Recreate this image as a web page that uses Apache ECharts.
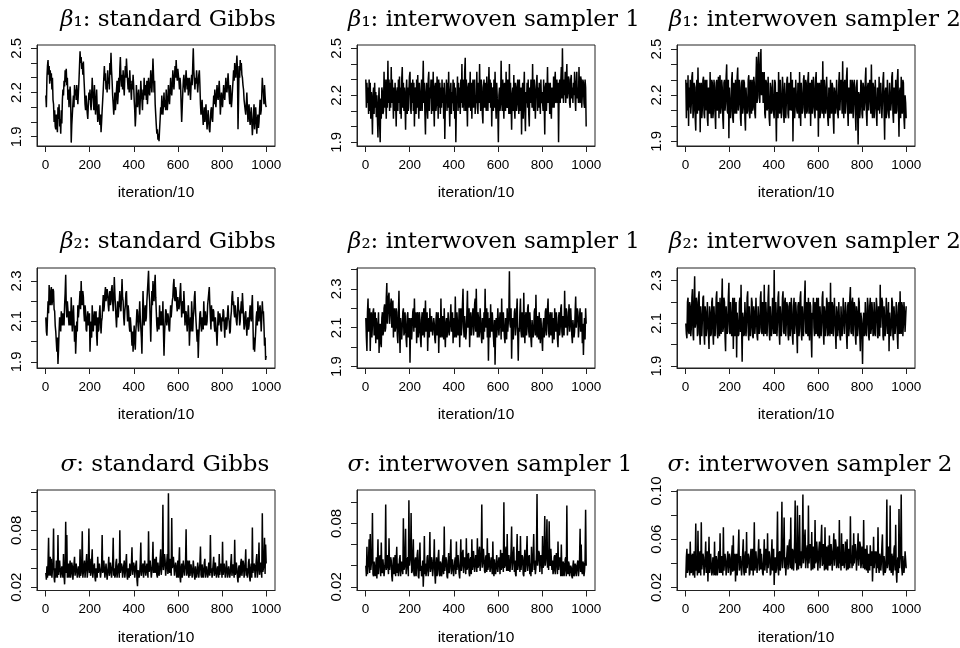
<!DOCTYPE html>
<html><head><meta charset="utf-8">
<script src="https://cdn.jsdelivr.net/npm/echarts@6/dist/echarts.min.js"></script>
<style>html,body{margin:0;padding:0;background:#fff}#c{width:960px;height:648px}</style>
</head><body><div id="c"></div>
<script>
// ---- data (thinned draws, 400 per chain) ----
const b1Gibbs = [
2.18,2.10,2.30,2.38,2.42,2.32,2.38,2.26,2.35,2.28,2.33,2.22,2.30,2.15,2.12,2.00,2.08,1.97,1.95,2.05,
1.98,1.93,2.10,2.02,2.12,1.97,2.02,1.92,2.08,1.99,2.15,2.22,2.18,2.28,2.24,2.35,2.27,2.36,2.25,2.30,
2.15,2.22,2.10,2.18,2.24,2.15,1.86,1.98,2.05,2.12,2.18,2.10,2.25,2.18,2.22,2.15,2.25,2.18,2.12,2.20,
2.28,2.38,2.48,2.40,2.44,2.36,2.40,2.32,2.41,2.30,2.22,2.12,2.08,2.18,2.12,2.06,2.02,2.12,2.20,2.15,
2.22,2.12,2.08,2.18,2.30,2.20,2.15,2.08,2.25,2.15,2.05,2.12,2.22,2.10,2.00,2.08,2.12,2.02,1.98,2.05,
1.93,2.00,2.08,2.15,2.22,2.30,2.38,2.28,2.33,2.22,2.28,2.20,2.35,2.26,2.30,2.22,2.40,2.32,2.47,2.35,
2.28,2.18,2.12,2.05,2.12,2.20,2.08,2.15,2.22,2.28,2.12,2.18,2.30,2.20,2.36,2.44,2.30,2.24,2.32,2.22,
2.35,2.25,2.18,2.30,2.38,2.30,2.43,2.35,2.28,2.22,2.30,2.20,2.35,2.26,2.22,2.15,2.28,2.22,2.32,2.25,
2.15,2.08,1.97,2.05,2.25,2.15,2.10,2.18,2.22,2.12,2.05,2.15,2.28,2.20,2.15,2.08,2.22,2.15,2.30,2.22,
2.18,2.25,2.15,2.28,2.12,2.20,2.30,2.22,2.18,2.25,2.35,2.28,2.20,2.30,2.43,2.32,2.20,2.28,2.12,2.05,
1.98,1.92,1.95,1.88,1.92,1.87,1.95,2.02,2.10,2.05,2.18,2.10,2.05,2.12,2.20,2.10,2.15,2.08,2.22,2.12,
2.08,2.15,2.25,2.18,2.12,2.20,2.30,2.22,2.18,2.25,2.35,2.28,2.22,2.30,2.38,2.30,2.42,2.33,2.28,2.36,
2.35,2.28,2.22,2.30,2.25,2.12,2.00,2.10,2.20,2.28,2.32,2.25,2.20,2.28,2.35,2.27,2.22,2.30,2.18,2.25,
2.30,2.22,2.15,2.25,2.32,2.25,2.38,2.50,2.35,2.28,2.22,2.30,2.26,2.35,2.28,2.20,2.26,2.32,2.35,2.25,
2.12,2.05,2.10,2.15,2.05,1.98,2.05,2.10,2.00,2.06,2.12,2.02,1.95,2.02,2.08,2.00,1.95,1.93,2.02,2.08,
2.10,2.02,2.00,2.10,2.18,2.12,2.22,2.15,2.10,2.18,2.25,2.18,2.15,2.22,2.28,2.18,2.05,2.12,2.20,2.15,
2.10,2.18,2.25,2.18,2.15,2.22,2.30,2.22,2.20,2.26,2.33,2.25,2.18,2.12,2.25,2.18,2.10,2.15,2.22,2.28,
2.35,2.28,2.40,2.32,2.30,2.38,2.45,2.35,1.95,2.15,2.38,2.30,2.42,2.35,2.40,2.32,2.30,2.25,2.22,2.15,
2.15,2.08,2.05,2.12,2.20,2.10,2.00,2.08,2.12,2.02,1.98,2.05,2.10,2.00,1.91,1.98,2.05,2.12,1.95,2.02,
2.10,2.02,1.92,2.00,2.05,1.96,2.00,2.08,2.15,2.05,2.08,2.18,2.30,2.22,2.20,2.12,2.25,2.18,2.12,2.10];
const b1Int1 = [
2.30,2.12,2.28,2.15,2.25,2.08,2.30,2.10,2.28,2.05,2.22,2.12,1.95,2.20,2.25,2.08,2.28,2.12,2.22,2.06,
2.20,2.05,1.93,2.15,2.25,2.02,1.90,2.18,2.05,2.25,2.22,2.08,2.10,2.35,2.12,2.30,2.18,2.05,2.30,2.12,
2.42,2.15,2.30,2.10,2.28,2.12,2.38,2.15,2.30,2.20,2.05,2.25,2.10,2.28,2.15,2.00,2.22,2.25,2.10,2.30,
2.15,2.32,2.08,2.25,2.05,2.30,2.38,2.12,2.28,2.10,2.25,2.15,1.98,2.22,2.30,2.08,2.25,2.10,2.22,2.32,
2.35,2.12,2.08,2.28,2.15,2.30,2.10,2.28,2.00,2.22,2.25,2.08,2.30,2.12,2.33,2.15,2.05,2.28,2.18,2.10,
2.20,2.30,2.10,2.25,2.42,2.15,2.28,2.08,1.95,2.22,2.28,2.12,2.05,2.30,2.35,2.10,2.25,2.18,2.30,2.08,
2.30,2.10,2.35,2.15,2.00,2.25,2.28,2.10,2.15,2.32,2.22,2.05,2.30,2.12,2.28,2.08,2.25,2.12,2.30,2.15,
2.25,2.05,2.28,1.92,2.15,2.20,2.30,2.10,2.28,2.12,2.35,2.15,2.00,2.22,2.28,2.08,2.22,2.15,2.30,2.10,
2.28,2.05,2.25,1.90,2.15,2.20,2.32,2.10,2.28,2.12,2.25,2.08,2.30,2.15,2.40,2.12,2.30,2.22,2.10,2.35,
2.44,2.10,2.30,2.15,2.00,2.25,2.28,2.12,2.20,2.35,2.10,2.28,2.05,2.22,2.30,2.12,2.25,2.30,2.08,2.20,
2.15,2.35,2.12,2.08,2.28,2.15,2.40,2.18,2.10,2.30,2.25,2.08,2.02,2.25,2.30,2.12,2.28,2.18,2.10,2.32,
2.32,2.10,2.25,2.38,2.15,2.30,2.12,2.28,2.00,2.22,2.25,2.10,2.30,2.12,2.35,2.15,2.05,2.28,2.18,2.10,
1.90,2.20,2.25,2.10,2.15,2.42,2.20,2.10,2.30,2.15,2.05,2.28,2.22,2.10,2.35,2.15,2.12,2.30,2.20,2.08,
2.40,2.08,2.28,2.15,1.98,2.20,2.25,2.10,2.33,2.12,2.05,2.28,2.25,2.10,2.15,2.30,2.22,2.08,2.30,2.12,
2.10,2.25,1.95,2.20,2.28,2.05,2.22,2.35,2.10,1.97,2.22,2.15,2.28,2.12,2.30,2.08,2.00,2.25,2.15,2.30,
2.25,2.12,2.40,2.15,2.10,2.30,2.22,2.05,2.20,2.28,2.33,2.10,2.25,2.12,2.28,2.18,2.08,2.30,2.15,2.22,
2.22,2.10,2.30,2.15,1.95,2.25,2.28,2.10,2.20,2.38,2.15,2.28,2.22,2.08,2.28,2.12,2.05,2.25,2.20,2.12,
2.32,2.12,2.28,2.35,2.15,2.20,2.30,2.15,2.28,1.90,2.22,2.30,2.15,2.28,2.38,2.18,2.50,2.25,2.15,2.30,
2.20,2.35,2.15,2.28,2.40,2.18,2.22,2.32,2.30,2.15,2.12,2.30,2.33,2.18,2.25,2.15,2.28,2.20,2.35,2.18,
2.10,2.28,2.35,2.18,2.25,2.15,2.38,2.20,2.15,2.32,2.30,2.12,2.20,2.30,2.28,2.15,2.12,2.30,2.25,2.00];
const b1Int2 = [
2.30,2.05,2.28,2.10,2.33,2.00,2.25,2.12,2.30,2.08,2.15,2.32,2.35,2.05,2.10,2.28,2.25,2.05,1.97,2.25,
2.30,2.08,2.38,2.15,2.10,2.28,1.96,2.22,2.28,2.05,2.12,2.30,2.32,2.08,2.05,2.30,2.22,2.10,2.30,2.05,
2.00,2.25,2.20,2.08,2.35,2.12,2.05,2.30,2.28,2.05,2.10,2.30,2.25,2.08,1.98,2.28,2.30,2.10,2.15,2.32,
2.05,2.30,2.33,2.08,2.12,2.30,2.25,2.05,1.98,2.28,2.30,2.10,2.15,2.32,2.40,2.10,2.08,2.30,1.92,2.25,
2.25,2.05,2.10,2.30,2.35,2.05,2.02,2.28,2.22,2.08,2.30,2.10,2.08,2.32,2.38,2.10,2.15,2.30,2.25,2.05,
2.00,2.28,2.30,2.08,2.12,2.30,2.28,2.05,1.97,2.25,2.25,2.08,2.10,2.30,2.33,2.08,2.05,2.30,2.22,2.08,
2.30,2.10,2.12,2.32,2.28,2.08,2.05,2.30,2.45,2.15,2.20,2.42,2.48,2.18,2.15,2.40,2.50,2.20,2.25,2.35,
2.15,2.32,2.35,2.08,2.05,2.30,2.28,2.10,2.12,2.32,2.32,2.05,2.00,2.28,2.25,2.08,2.10,2.30,2.30,2.08,
2.05,2.30,2.28,2.10,1.90,2.22,2.22,2.05,2.35,2.12,2.08,2.30,2.30,2.05,2.12,2.32,2.25,2.08,2.02,2.28,
2.28,2.05,2.15,2.30,2.32,2.08,2.05,2.28,2.22,2.10,2.35,2.12,2.10,2.30,1.90,2.20,2.25,2.05,2.12,2.30,
2.30,2.10,2.08,2.28,2.25,2.05,2.35,2.12,2.00,2.28,2.20,2.08,2.12,2.30,2.33,2.10,2.05,2.30,2.28,2.08,
2.10,2.30,2.35,2.08,2.15,2.28,2.00,2.22,2.30,2.08,2.12,2.32,2.25,2.08,2.05,2.30,2.35,2.10,2.15,2.28,
1.93,2.25,2.28,2.05,2.10,2.30,2.30,2.08,2.42,2.15,2.05,2.30,2.25,2.08,2.12,2.32,2.32,2.05,2.00,2.25,
2.20,2.05,2.30,2.10,2.08,2.28,2.25,2.05,1.95,2.25,2.22,2.08,2.12,2.30,2.30,2.08,2.05,2.28,2.35,2.10,
2.10,2.30,2.25,2.08,2.42,2.15,2.05,2.28,2.30,2.08,2.15,2.32,2.38,2.10,2.00,2.25,2.22,2.08,2.30,2.12,
2.08,2.30,2.28,2.05,2.15,2.30,2.25,2.08,1.97,2.25,2.30,2.10,1.88,2.22,2.20,2.05,2.12,2.30,2.28,2.08,
2.05,2.28,2.25,2.10,2.15,2.30,2.38,2.08,2.00,2.25,2.28,2.10,2.10,2.30,2.30,2.08,2.40,2.15,2.05,2.28,
2.25,2.05,2.12,2.30,2.30,2.08,2.00,2.25,2.22,2.10,2.32,2.08,2.08,2.28,2.28,2.05,2.15,2.30,2.35,2.10,
1.91,2.22,2.25,2.05,2.10,2.30,2.30,2.08,2.05,2.28,2.28,2.10,2.15,2.32,2.35,2.08,2.02,2.25,2.22,2.08,
2.30,2.08,2.10,2.30,2.37,2.12,1.93,2.22,2.25,2.05,2.32,2.10,2.08,2.30,2.28,2.05,1.98,2.20,2.15,2.05];
const b2Gibbs = [
2.12,2.05,2.03,2.12,2.20,2.14,2.28,2.20,2.18,2.25,2.27,2.18,2.20,2.26,2.25,2.16,2.15,2.08,2.05,2.00,
1.95,2.02,1.89,1.96,2.05,2.12,2.10,2.05,2.15,2.10,2.08,2.14,2.13,2.08,2.18,2.24,2.33,2.18,2.12,2.20,
2.20,2.12,2.08,2.15,2.15,2.08,2.22,2.12,2.05,2.12,2.18,2.10,2.00,2.08,1.94,2.02,2.10,2.05,2.18,2.12,
2.12,2.20,2.25,2.16,2.30,2.20,2.18,2.25,2.22,2.14,2.10,2.18,2.15,2.06,2.05,2.12,2.15,2.08,2.08,2.14,
1.95,2.04,2.10,2.02,2.18,2.10,2.05,2.12,2.15,2.08,2.08,2.15,2.03,1.98,2.12,2.05,2.06,2.14,2.18,2.10,
2.04,2.10,2.12,2.18,2.23,2.15,2.18,2.24,2.27,2.20,2.20,2.26,2.24,2.18,2.15,2.22,2.25,2.18,2.20,2.26,
2.28,2.20,2.15,2.22,2.32,2.24,2.18,2.12,2.07,2.14,2.20,2.12,2.12,2.20,2.25,2.18,2.15,2.22,2.31,2.22,
2.20,2.12,2.08,2.15,2.18,2.24,2.25,2.16,2.10,2.18,2.15,2.08,2.05,2.12,2.12,2.04,1.98,2.05,1.95,2.02,
2.08,2.00,1.96,2.05,2.10,2.16,2.15,2.08,2.05,2.12,2.20,2.12,2.12,2.02,1.94,2.10,2.25,2.15,2.08,2.14,
2.18,2.10,2.12,2.20,2.25,2.30,2.35,2.24,2.20,2.10,2.00,2.12,2.25,2.18,2.30,2.22,2.20,2.28,2.33,2.22,
2.15,2.08,2.05,2.12,2.12,2.06,2.18,2.10,2.08,2.15,2.15,2.08,2.20,2.05,1.93,2.04,2.10,2.16,2.15,2.08,
2.08,2.14,2.12,2.06,2.05,2.12,2.18,2.12,2.12,2.20,2.22,2.28,2.31,2.22,2.20,2.27,2.25,2.18,2.15,2.22,
2.22,2.16,2.18,2.24,2.29,2.20,2.12,2.18,2.20,2.14,2.25,2.18,2.08,2.14,2.15,2.10,2.05,2.12,2.18,2.12,
1.98,2.06,2.12,2.05,2.20,2.14,2.05,2.12,2.15,2.22,2.25,2.16,2.10,2.05,2.00,2.06,1.92,2.02,2.08,2.14,
2.15,2.08,2.05,2.12,2.12,2.06,2.20,2.12,2.08,2.15,2.15,2.08,2.10,2.18,2.18,2.24,2.27,2.18,2.12,2.06,
2.18,2.12,2.10,2.16,2.15,2.08,2.05,2.12,2.12,2.04,1.98,2.06,2.15,2.08,2.08,2.14,2.12,2.06,2.05,2.12,
2.10,2.16,2.15,2.08,2.02,2.10,2.12,2.06,2.08,2.14,2.18,2.12,2.10,2.04,2.05,2.12,2.15,2.22,2.25,2.18,
2.20,2.14,2.12,2.18,2.18,2.10,2.08,2.14,2.22,2.16,2.15,2.08,2.10,2.16,2.20,2.14,2.24,2.18,2.12,2.06,
2.08,2.14,2.15,2.08,2.03,2.10,2.12,2.06,2.08,2.14,2.18,2.12,2.10,2.18,2.23,2.10,1.96,2.02,1.95,2.00,
2.05,2.12,2.15,2.08,2.20,2.14,2.10,2.16,2.18,2.12,2.05,2.12,2.20,2.14,2.15,2.08,1.98,2.02,1.91,1.93];
const b2Int1 = [
2.15,2.05,1.98,2.18,2.25,2.08,2.10,2.20,1.98,2.12,2.18,2.05,2.05,2.18,2.20,2.06,2.12,2.18,2.02,2.15,
2.15,2.04,2.05,2.18,1.97,2.10,2.12,2.02,2.00,2.15,2.18,2.06,2.08,2.20,2.22,2.08,2.10,2.25,2.33,2.12,
2.18,2.26,2.28,2.12,2.12,2.22,2.25,2.10,2.15,2.24,2.05,2.18,2.20,2.08,2.10,2.20,2.18,2.06,2.02,2.16,
2.29,2.10,1.97,2.15,2.15,2.04,2.05,2.18,2.20,2.06,2.08,2.18,2.12,2.04,2.00,2.16,2.18,2.05,2.06,2.15,
1.92,2.10,2.15,2.04,2.05,2.18,2.20,2.08,2.25,2.10,2.10,2.18,2.02,2.14,2.18,2.05,2.08,2.18,2.14,2.04,
2.00,2.14,2.18,2.06,2.10,2.20,2.05,2.12,2.24,2.08,2.12,2.18,1.98,2.10,2.15,2.05,2.20,2.10,2.08,2.16,
2.16,2.06,2.05,2.15,2.12,2.04,2.02,2.14,2.18,2.06,2.08,2.18,1.97,2.10,2.15,2.05,2.25,2.10,2.05,2.16,
2.12,2.04,2.20,2.08,2.00,2.12,2.15,2.05,2.08,2.18,2.18,2.06,2.05,2.15,2.22,2.08,2.10,2.18,2.02,2.12,
2.15,2.05,2.26,2.10,2.05,2.18,2.18,2.06,2.10,2.20,2.00,2.14,2.20,2.06,2.12,2.22,2.30,2.10,2.05,2.16,
2.15,2.04,2.08,2.18,2.29,2.10,2.12,2.20,2.00,2.12,2.18,2.06,2.05,2.16,2.20,2.06,2.10,2.22,2.25,2.08,
2.30,2.12,2.05,2.18,2.15,2.05,2.08,2.20,2.20,2.06,2.02,2.15,2.12,2.04,2.18,2.08,2.30,2.12,2.10,2.20,
2.05,2.18,1.93,2.10,2.15,2.05,2.22,2.10,2.08,2.18,2.18,2.06,2.00,2.14,1.91,2.08,2.15,2.05,2.10,2.20,
2.20,2.06,2.05,2.18,2.15,2.04,2.25,2.10,2.08,2.18,2.18,2.05,2.02,2.15,2.12,2.04,2.20,2.08,2.08,2.18,
2.39,2.12,2.10,2.20,1.94,2.10,2.15,2.04,2.05,2.18,2.20,2.06,2.10,2.18,2.25,2.08,1.93,2.10,2.08,2.18,
2.25,2.08,2.05,2.18,2.15,2.05,2.28,2.12,2.02,2.15,2.18,2.06,2.10,2.20,2.22,2.08,2.05,2.18,2.12,2.04,
2.00,2.14,2.15,2.05,2.08,2.18,2.20,2.06,2.27,2.12,2.05,2.16,2.12,2.04,2.18,2.08,2.02,2.15,2.10,2.04,
1.98,2.12,2.15,2.05,2.08,2.18,2.20,2.06,2.12,2.20,2.25,2.08,2.05,2.16,2.18,2.06,2.10,2.18,2.02,2.12,
2.15,2.04,2.20,2.10,2.08,2.18,2.12,2.04,2.00,2.15,2.18,2.06,2.10,2.20,2.22,2.08,2.05,2.16,2.15,2.06,
2.29,2.12,2.10,2.20,2.18,2.06,2.05,2.16,2.22,2.08,2.12,2.20,2.20,2.06,2.02,2.14,2.15,2.05,2.08,2.18,
2.26,2.10,2.10,2.20,2.18,2.05,2.05,2.16,2.20,2.08,2.12,2.18,2.02,2.12,1.96,2.08,2.15,2.04,2.20,2.12];
const b2Int2 = [
2.10,2.05,2.03,2.20,2.22,2.06,2.05,2.20,2.18,2.04,2.08,2.22,2.26,2.05,2.02,2.20,2.32,2.08,2.10,2.22,
2.20,2.04,2.05,2.22,2.25,2.06,2.00,2.18,2.18,2.04,2.12,2.22,2.23,2.05,2.00,2.18,2.15,2.04,2.08,2.20,
2.20,2.05,1.98,2.18,2.15,2.04,2.05,2.20,2.22,2.06,2.00,2.18,2.18,2.04,2.10,2.22,2.25,2.05,2.03,2.20,
2.15,2.04,2.22,2.08,2.05,2.20,2.31,2.06,2.08,2.22,2.20,2.04,1.97,2.18,2.18,2.05,2.10,2.22,2.29,2.06,
2.05,2.20,2.20,2.04,2.12,2.22,1.98,2.15,2.22,2.04,2.08,2.20,1.94,2.15,2.15,2.04,2.05,2.20,2.22,2.06,
2.28,2.08,1.92,2.15,2.12,2.04,2.05,2.20,2.20,2.04,2.10,2.22,2.25,2.06,2.02,2.18,2.18,2.04,2.08,2.22,
2.20,2.04,2.03,2.18,2.15,2.05,2.10,2.22,2.22,2.04,2.02,2.18,2.18,2.05,2.08,2.22,2.25,2.06,2.05,2.20,
2.15,2.04,2.28,2.10,2.05,2.20,2.20,2.04,2.10,2.22,2.28,2.06,2.02,2.18,2.18,2.04,2.08,2.22,2.22,2.05,
2.35,2.08,2.05,2.20,2.20,2.04,2.10,2.22,2.25,2.06,2.00,2.18,2.18,2.04,2.12,2.22,2.25,2.06,2.05,2.20,
2.22,2.04,2.10,2.20,2.18,2.05,2.02,2.18,2.20,2.04,2.08,2.22,2.15,2.04,2.00,2.18,2.22,2.05,2.10,2.20,
2.15,2.05,1.96,2.18,2.20,2.04,2.08,2.22,2.25,2.06,2.02,2.18,2.18,2.04,2.12,2.22,2.30,2.06,2.05,2.20,
2.15,2.04,2.22,2.08,2.02,2.20,2.18,2.04,1.94,2.15,2.12,2.22,2.08,2.04,2.20,2.06,2.05,2.22,2.15,2.04,
2.22,2.05,2.03,2.18,2.18,2.04,2.10,2.22,2.25,2.06,2.00,2.18,2.15,2.04,2.08,2.22,2.20,2.04,2.05,2.20,
2.12,2.04,2.29,2.08,2.05,2.20,2.18,2.04,2.10,2.22,2.22,2.05,1.98,2.18,2.15,2.04,2.08,2.20,2.20,2.04,
2.02,2.18,2.18,2.04,2.10,2.22,2.22,2.05,2.05,2.20,2.15,2.04,1.98,2.18,2.20,2.04,2.08,2.22,2.27,2.06,
2.05,2.20,2.22,2.04,2.10,2.20,2.18,2.04,2.00,2.18,2.15,2.04,2.08,2.22,2.20,2.05,1.97,2.15,2.12,2.04,
1.91,2.10,2.15,2.04,2.05,2.20,2.20,2.04,2.10,2.22,2.18,2.04,2.02,2.18,2.22,2.05,2.08,2.20,2.15,2.04,
2.05,2.20,2.20,2.04,2.12,2.22,2.18,2.04,2.03,2.18,2.15,2.04,2.28,2.08,2.08,2.22,2.20,2.04,2.02,2.18,
2.18,2.04,2.10,2.22,2.22,2.05,2.05,2.20,1.97,2.15,2.15,2.04,2.08,2.22,2.20,2.04,2.02,2.18,2.18,2.05,
2.10,2.20,2.15,2.04,1.98,2.18,2.20,2.05,2.25,2.08,2.05,2.20,2.18,2.04,2.10,2.20,2.15,2.06,2.12,2.18];
const sGibbs = [
0.035,0.028,0.042,0.030,0.045,0.072,0.032,0.040,0.052,0.032,0.050,0.030,0.038,0.045,0.082,0.030,0.025,0.040,0.030,0.048,
0.045,0.030,0.075,0.033,0.035,0.048,0.048,0.030,0.028,0.042,0.042,0.030,0.055,0.032,0.023,0.040,0.089,0.035,0.075,0.030,
0.038,0.045,0.030,0.040,0.048,0.030,0.035,0.046,0.042,0.028,0.028,0.044,0.052,0.032,0.033,0.045,0.045,0.030,0.030,0.042,
0.040,0.030,0.060,0.032,0.035,0.045,0.079,0.030,0.032,0.042,0.048,0.030,0.038,0.046,0.055,0.030,0.030,0.044,0.082,0.035,
0.050,0.032,0.035,0.048,0.060,0.030,0.028,0.042,0.045,0.030,0.026,0.040,0.040,0.030,0.052,0.035,0.033,0.045,0.043,0.030,
0.030,0.042,0.075,0.035,0.038,0.048,0.048,0.030,0.032,0.045,0.045,0.028,0.028,0.042,0.052,0.032,0.036,0.046,0.040,0.030,
0.030,0.044,0.072,0.032,0.040,0.030,0.033,0.046,0.050,0.030,0.028,0.042,0.045,0.030,0.080,0.035,0.035,0.045,0.042,0.030,
0.030,0.042,0.048,0.030,0.036,0.046,0.055,0.032,0.028,0.040,0.040,0.030,0.045,0.032,0.032,0.044,0.062,0.033,0.035,0.046,
0.042,0.030,0.030,0.044,0.048,0.028,0.021,0.038,0.040,0.030,0.035,0.046,0.067,0.032,0.030,0.042,0.045,0.030,0.038,0.048,
0.050,0.032,0.032,0.045,0.044,0.030,0.079,0.036,0.036,0.048,0.048,0.030,0.030,0.044,0.068,0.035,0.040,0.050,0.035,0.045,
0.052,0.033,0.030,0.046,0.045,0.032,0.038,0.050,0.060,0.033,0.033,0.048,0.107,0.038,0.040,0.055,0.048,0.032,0.030,0.046,
0.055,0.034,0.119,0.040,0.035,0.050,0.045,0.032,0.093,0.040,0.038,0.052,0.050,0.032,0.032,0.046,0.042,0.030,0.036,0.048,
0.030,0.045,0.062,0.030,0.025,0.040,0.045,0.030,0.038,0.048,0.050,0.032,0.033,0.046,0.081,0.032,0.040,0.048,0.035,0.030,
0.048,0.032,0.030,0.044,0.042,0.030,0.036,0.048,0.050,0.032,0.028,0.042,0.044,0.030,0.035,0.046,0.040,0.030,0.032,0.045,
0.063,0.033,0.030,0.044,0.045,0.030,0.036,0.046,0.050,0.030,0.028,0.042,0.042,0.030,0.033,0.046,0.048,0.032,0.075,0.035,
0.040,0.030,0.030,0.044,0.052,0.032,0.035,0.046,0.045,0.030,0.028,0.042,0.040,0.030,0.055,0.033,0.033,0.045,0.042,0.030,
0.068,0.033,0.032,0.045,0.045,0.030,0.037,0.048,0.050,0.030,0.028,0.042,0.040,0.030,0.035,0.046,0.055,0.032,0.030,0.044,
0.042,0.030,0.070,0.033,0.036,0.046,0.048,0.030,0.025,0.040,0.043,0.030,0.033,0.046,0.050,0.032,0.038,0.048,0.045,0.030,
0.030,0.044,0.060,0.032,0.040,0.030,0.035,0.046,0.050,0.030,0.026,0.040,0.045,0.030,0.083,0.035,0.033,0.045,0.042,0.030,
0.038,0.048,0.055,0.030,0.030,0.044,0.067,0.033,0.035,0.046,0.045,0.030,0.098,0.036,0.040,0.050,0.072,0.034,0.065,0.045];
const sInt1 = [
0.040,0.030,0.058,0.032,0.032,0.046,0.065,0.033,0.070,0.036,0.035,0.048,0.090,0.032,0.030,0.044,0.045,0.030,0.038,0.048,
0.028,0.042,0.065,0.032,0.040,0.048,0.050,0.030,0.062,0.035,0.033,0.046,0.045,0.030,0.030,0.044,0.098,0.036,0.040,0.050,
0.050,0.032,0.066,0.036,0.035,0.048,0.045,0.030,0.025,0.040,0.048,0.032,0.038,0.050,0.030,0.044,0.058,0.033,0.042,0.030,
0.035,0.046,0.050,0.030,0.030,0.044,0.045,0.032,0.085,0.036,0.038,0.050,0.075,0.032,0.032,0.046,0.048,0.030,0.102,0.040,
0.040,0.050,0.090,0.033,0.035,0.048,0.065,0.032,0.030,0.044,0.048,0.030,0.038,0.050,0.055,0.030,0.028,0.042,0.062,0.035,
0.040,0.030,0.033,0.045,0.020,0.036,0.068,0.032,0.042,0.030,0.035,0.048,0.050,0.030,0.030,0.044,0.072,0.034,0.038,0.048,
0.045,0.030,0.030,0.044,0.065,0.032,0.023,0.040,0.048,0.030,0.036,0.048,0.055,0.032,0.030,0.044,0.042,0.030,0.033,0.046,
0.050,0.032,0.077,0.035,0.035,0.048,0.045,0.030,0.028,0.042,0.052,0.033,0.038,0.050,0.065,0.032,0.033,0.046,0.045,0.030,
0.030,0.044,0.048,0.032,0.063,0.036,0.035,0.050,0.050,0.032,0.028,0.044,0.065,0.035,0.040,0.052,0.055,0.033,0.033,0.048,
0.045,0.032,0.066,0.036,0.038,0.050,0.052,0.033,0.030,0.046,0.048,0.032,0.065,0.036,0.040,0.054,0.055,0.034,0.035,0.050,
0.050,0.034,0.066,0.038,0.040,0.054,0.058,0.035,0.035,0.050,0.098,0.038,0.045,0.056,0.055,0.035,0.033,0.048,0.050,0.034,
0.066,0.036,0.040,0.052,0.052,0.034,0.035,0.048,0.048,0.032,0.063,0.036,0.030,0.046,0.045,0.032,0.038,0.050,0.050,0.034,
0.033,0.048,0.045,0.032,0.055,0.036,0.038,0.052,0.050,0.034,0.100,0.038,0.040,0.054,0.058,0.035,0.070,0.038,0.035,0.050,
0.050,0.034,0.042,0.054,0.077,0.036,0.035,0.050,0.058,0.034,0.045,0.032,0.030,0.048,0.070,0.036,0.040,0.054,0.052,0.034,
0.068,0.036,0.035,0.050,0.048,0.032,0.030,0.046,0.055,0.034,0.040,0.052,0.068,0.035,0.035,0.048,0.050,0.032,0.042,0.030,
0.058,0.034,0.035,0.050,0.070,0.036,0.045,0.032,0.038,0.052,0.108,0.040,0.040,0.054,0.052,0.034,0.035,0.050,0.048,0.032,
0.068,0.038,0.040,0.055,0.087,0.040,0.045,0.058,0.084,0.038,0.050,0.036,0.082,0.042,0.040,0.056,0.055,0.036,0.045,0.032,
0.035,0.048,0.050,0.032,0.040,0.052,0.048,0.032,0.063,0.036,0.035,0.048,0.045,0.030,0.060,0.034,0.030,0.044,0.042,0.030,
0.035,0.046,0.048,0.030,0.097,0.036,0.032,0.044,0.042,0.030,0.030,0.040,0.038,0.030,0.028,0.040,0.045,0.030,0.033,0.042,
0.040,0.030,0.030,0.042,0.045,0.030,0.036,0.046,0.075,0.034,0.060,0.035,0.032,0.044,0.042,0.030,0.035,0.046,0.093,0.040];
const sInt2 = [
0.028,0.045,0.052,0.032,0.035,0.048,0.045,0.030,0.058,0.034,0.032,0.046,0.048,0.030,0.038,0.050,0.028,0.040,0.073,0.034,
0.040,0.030,0.067,0.034,0.032,0.048,0.050,0.030,0.074,0.035,0.035,0.048,0.045,0.030,0.030,0.044,0.058,0.032,0.040,0.050,
0.025,0.040,0.062,0.032,0.038,0.048,0.048,0.030,0.033,0.045,0.045,0.030,0.058,0.034,0.030,0.046,0.042,0.030,0.036,0.048,
0.050,0.032,0.065,0.035,0.032,0.046,0.045,0.030,0.070,0.034,0.035,0.048,0.042,0.030,0.030,0.044,0.050,0.032,0.038,0.048,
0.045,0.030,0.032,0.046,0.055,0.033,0.063,0.034,0.035,0.048,0.025,0.040,0.048,0.030,0.040,0.052,0.068,0.034,0.033,0.046,
0.045,0.030,0.038,0.050,0.060,0.033,0.030,0.045,0.050,0.032,0.066,0.036,0.035,0.048,0.045,0.030,0.032,0.046,0.052,0.034,
0.040,0.052,0.030,0.044,0.074,0.034,0.038,0.050,0.050,0.032,0.033,0.048,0.060,0.034,0.042,0.052,0.035,0.048,0.048,0.032,
0.030,0.044,0.060,0.034,0.040,0.052,0.050,0.032,0.065,0.036,0.035,0.050,0.045,0.030,0.032,0.046,0.060,0.034,0.040,0.052,
0.022,0.040,0.045,0.032,0.035,0.050,0.083,0.036,0.030,0.048,0.050,0.034,0.040,0.055,0.091,0.036,0.035,0.050,0.078,0.036,
0.045,0.030,0.030,0.048,0.055,0.035,0.040,0.056,0.060,0.036,0.078,0.040,0.035,0.052,0.050,0.034,0.042,0.058,0.092,0.040,
0.045,0.034,0.088,0.040,0.035,0.054,0.080,0.038,0.050,0.036,0.040,0.058,0.097,0.040,0.045,0.060,0.068,0.036,0.035,0.052,
0.055,0.036,0.088,0.040,0.040,0.056,0.050,0.034,0.066,0.038,0.035,0.054,0.055,0.036,0.076,0.040,0.042,0.058,0.050,0.034,
0.035,0.052,0.058,0.036,0.045,0.060,0.072,0.038,0.040,0.056,0.050,0.034,0.070,0.038,0.035,0.054,0.048,0.034,0.055,0.038,
0.063,0.038,0.040,0.056,0.050,0.034,0.035,0.052,0.065,0.038,0.045,0.060,0.055,0.036,0.038,0.054,0.050,0.036,0.076,0.040,
0.045,0.034,0.065,0.040,0.038,0.056,0.055,0.036,0.042,0.058,0.050,0.034,0.060,0.038,0.035,0.052,0.048,0.036,0.079,0.040,
0.045,0.036,0.055,0.038,0.065,0.040,0.040,0.056,0.050,0.034,0.035,0.052,0.065,0.038,0.045,0.058,0.055,0.036,0.040,0.054,
0.050,0.036,0.076,0.040,0.035,0.052,0.045,0.034,0.055,0.038,0.032,0.048,0.045,0.034,0.055,0.038,0.040,0.050,0.025,0.040,
0.062,0.036,0.035,0.050,0.045,0.032,0.050,0.036,0.070,0.038,0.032,0.048,0.045,0.034,0.040,0.054,0.064,0.036,0.030,0.046,
0.045,0.032,0.035,0.050,0.093,0.036,0.040,0.054,0.050,0.034,0.088,0.038,0.032,0.048,0.045,0.030,0.038,0.052,0.055,0.034,
0.072,0.034,0.024,0.040,0.045,0.032,0.085,0.036,0.035,0.050,0.097,0.036,0.030,0.046,0.045,0.032,0.038,0.050,0.050,0.036];

const panelTitles = [
  '{m|β}₁: standard Gibbs', '{m|β}₁: interwoven sampler 1', '{m|β}₁: interwoven sampler 2',
  '{m|β}₂: standard Gibbs', '{m|β}₂: interwoven sampler 1', '{m|β}₂: interwoven sampler 2',
  '{m|σ}: standard Gibbs', '{m|σ}: interwoven sampler 1', '{m|σ}: interwoven sampler 2'];
const seriesData = [b1Gibbs, b1Int1, b1Int2, b2Gibbs, b2Int1, b2Int2, sGibbs, sInt1, sInt2];
const xTicks = [0, 200, 400, 600, 800, 1000];
const xName = 'iteration/10';
const yTicks = [
  [1.9,2.0,2.1,2.2,2.3,2.4,2.5],[1.9,2.0,2.1,2.2,2.3,2.4,2.5],[1.9,2.0,2.1,2.2,2.3,2.4,2.5],
  [1.9,2.0,2.1,2.2,2.3],[1.9,2.0,2.1,2.2,2.3,2.4],[1.9,2.0,2.1,2.2,2.3],
  [0.02,0.04,0.06,0.08,0.10,0.12],[0.02,0.04,0.06,0.08,0.10],[0.02,0.04,0.06,0.08,0.10]];
const yTickLabels = [
  [1.9,2.2,2.5],[1.9,2.2,2.5],[1.9,2.2,2.5],
  [1.9,2.1,2.3],[1.9,2.1,2.3],[1.9,2.1,2.3],
  [0.02,0.08],[0.02,0.08],[0.02,0.06,0.10]];
const nIter = 1000;

// ---- layout / style ----
const yRange = [
  [1.837,2.522],[1.876,2.521],[1.870,2.526],
  [1.870,2.364],[1.893,2.407],[1.891,2.359],
  [0.0165,0.1225],[0.0165,0.1117],[0.0175,0.1008]];
const colLeft = [37, 357, 677];
const gridW = 238;
const rowTop = [45, 268, 490];
const rowH = [101, 100, 100.5];
const titleX = [[163,489,810],[163,489,810],[160,485,805]];
const titleTop = [4, 226, 449];
const sansFont = '"Liberation Sans", Arial, sans-serif';
const serifFont = '"DejaVu Serif", serif';

const grids = [], xAxes = [], yAxes = [], series = [], titles = [];
for (let p = 0; p < 9; p++) {
  const r = Math.floor(p / 3), c = p % 3;
  const dec = r === 2 ? 2 : 1;
  grids.push({left: colLeft[c], top: rowTop[r], width: gridW, height: rowH[r],
    show: true, borderColor: '#222', borderWidth: 1, backgroundColor: 'transparent', containLabel: false});
  xAxes.push({type: 'value', gridIndex: p, min: -39, max: 1040,
    name: xName, nameLocation: 'middle', nameGap: 39,
    nameTextStyle: {fontFamily: sansFont, fontSize: 15.5, color: '#000'},
    axisLine: {show: true, onZero: false, lineStyle: {color: '#222', width: 1}},
    axisTick: {show: true, customValues: xTicks, length: 6, lineStyle: {color: '#222', width: 1}},
    axisLabel: {customValues: xTicks, margin: 12, fontFamily: sansFont, fontSize: 13.5, color: '#000',
      formatter: v => String(v)},
    splitLine: {show: false}});
  yAxes.push({type: 'value', gridIndex: p, min: yRange[p][0], max: yRange[p][1],
    axisLine: {show: true, onZero: false, lineStyle: {color: '#222', width: 1}},
    axisTick: {show: true, customValues: yTicks[p], length: 6, lineStyle: {color: '#222', width: 1}},
    axisLabel: {customValues: yTickLabels[p], rotate: 90, margin: 13, fontFamily: sansFont, fontSize: 15, color: '#000',
      formatter: v => Number(v).toFixed(dec)},
    splitLine: {show: false}});
  const vals = seriesData[p];
  series.push({type: 'line', xAxisIndex: p, yAxisIndex: p, showSymbol: false, symbol: 'none',
    animation: false, lineStyle: {color: '#000', width: 1.5},
    data: vals.map((v, i) => [1 + i * (nIter - 1) / (vals.length - 1), v])});
  titles.push({text: panelTitles[p], left: titleX[r][c], top: titleTop[r], textAlign: 'center',
    textStyle: {fontFamily: serifFont, fontSize: 23, fontWeight: 'normal', color: '#000',
      rich: {m: {fontFamily: serifFont, fontSize: 23, fontStyle: 'italic', color: '#000'}}}});
}
const chart = echarts.init(document.getElementById('c'), null, {renderer: 'canvas'});
chart.setOption({backgroundColor: '#fff', animation: false, title: titles, grid: grids,
  xAxis: xAxes, yAxis: yAxes, series: series});
</script></body></html>
